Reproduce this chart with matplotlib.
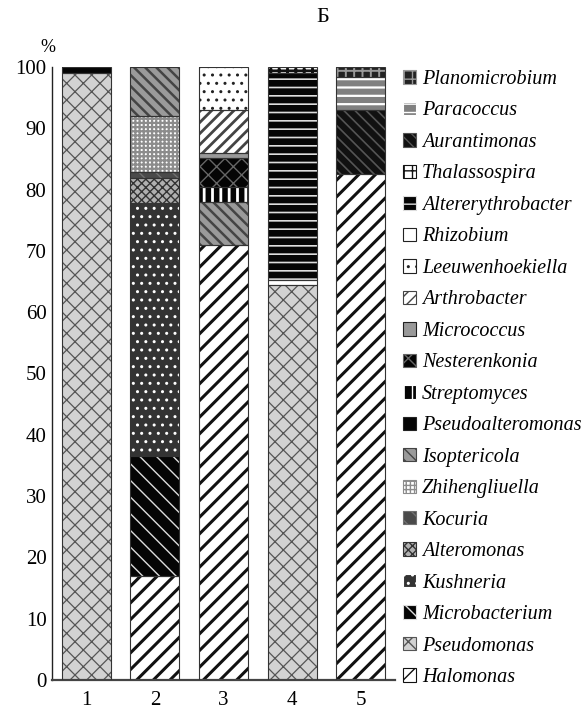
import matplotlib
matplotlib.use("Agg")
import matplotlib.pyplot as plt
from matplotlib.patches import Patch
import numpy as np

samples = ["1", "2", "3", "4", "5"]
genera = ["Halomonas", "Pseudomonas", "Microbacterium", "Kushneria", "Alteromonas",
          "Kocuria", "Zhihengliuella", "Isoptericola", "Pseudoalteromonas", "Streptomyces",
          "Nesterenkonia", "Micrococcus", "Arthrobacter", "Leeuwenhoekiella", "Rhizobium",
          "Altererythrobacter", "Thalassospira", "Aurantimonas", "Paracoccus", "Planomicrobium"]
# percent per sample (1..5)
values = {
    "Halomonas":          [0, 17.0, 71.0, 0, 82.5],
    "Pseudomonas":        [99.0, 0, 0, 64.5, 0],
    "Microbacterium":     [0, 19.5, 0, 0, 0],
    "Kushneria":          [0, 41.3, 0, 0, 0],
    "Alteromonas":        [0, 4.1, 0, 0, 0],
    "Kocuria":            [0, 1.0, 0, 0, 0],
    "Zhihengliuella":     [0, 9.1, 0, 0, 0],
    "Isoptericola":       [0, 8.0, 7.0, 0, 0],
    "Pseudoalteromonas":  [1.0, 0, 0, 0, 0],
    "Streptomyces":       [0, 0, 2.4, 0, 0],
    "Nesterenkonia":      [0, 0, 4.8, 0, 0],
    "Micrococcus":        [0, 0, 0.8, 0, 0],
    "Arthrobacter":       [0, 0, 7.0, 0, 0],
    "Leeuwenhoekiella":   [0, 0, 7.0, 0, 0],
    "Rhizobium":          [0, 0, 0, 0.7, 0],
    "Altererythrobacter": [0, 0, 0, 33.8, 0],
    "Thalassospira":      [0, 0, 0, 1.0, 0],
    "Aurantimonas":       [0, 0, 0, 0, 10.5],
    "Paracoccus":         [0, 0, 0, 0, 5.3],
    "Planomicrobium":     [0, 0, 0, 0, 1.7],
}
yticks = [0, 10, 20, 30, 40, 50, 60, 70, 80, 90, 100]

# style: facecolor, hatch, hatch color, hatch linewidth
styles = {
    "Halomonas":          ("#ffffff", "//", "#111111", 2.2),
    "Pseudomonas":        ("#d2d2d2", "xx", "#555555", 0.9),
    "Microbacterium":     ("#050505", "\\\\", "#dddddd", 1.0),
    "Kushneria":          ("#333333", "..", "#ffffff", 1.0),
    "Alteromonas":        ("#b0b0b0", "xxxx", "#333333", 1.0),
    "Kocuria":            ("#4a4a4a", "\\\\", "#707070", 1.0),
    "Zhihengliuella":     ("#ffffff", "++++", "#8c8c8c", 1.6),
    "Isoptericola":       ("#9a9a9a", "\\\\\\", "#444444", 1.8),
    "Pseudoalteromonas":  ("#050505", None, None, 1.0),
    "Streptomyces":       ("#050505", "||", "#ffffff", 2.0),
    "Nesterenkonia":      ("#050505", "xx", "#666666", 1.0),
    "Micrococcus":        ("#999999", None, None, 1.0),
    "Arthrobacter":       ("#ffffff", "///", "#444444", 2.0),
    "Leeuwenhoekiella":   ("#ffffff", "..", "#222222", 1.0),
    "Rhizobium":          ("#ffffff", None, None, 1.0),
    "Altererythrobacter": ("#050505", "--", "#dddddd", 1.2),
    "Thalassospira":      ("#ffffff", "++", "#111111", 2.0),
    "Aurantimonas":       ("#111111", "\\\\\\", "#555555", 1.2),
    "Paracoccus":         ("#808080", "--", "#ffffff", 1.6),
    "Planomicrobium":     ("#222222", "++", "#999999", 1.4),
}

plt.rcParams['font.family'] = ['Liberation Serif', 'DejaVu Serif']

fig = plt.figure(figsize=(5.87, 7.13), dpi=100)
ax = fig.add_axes([52/587, 1-680/713, (395-52)/587, (680-67)/713])

x = np.arange(1, len(samples) + 1)
width = 0.715
bottom = np.zeros(len(samples))
for g in genera:
    v = np.array(values[g], dtype=float)
    fc, h, hc, lw = styles[g]
    with plt.rc_context({'hatch.linewidth': lw}):
        ax.bar(x, v, width, bottom=bottom, color=fc, hatch=h,
               edgecolor=hc if hc else fc, linewidth=0, zorder=2)
    bottom += v
# outlines of segments
bottom = np.zeros(len(samples))
for g in genera:
    v = np.array(values[g], dtype=float)
    mask = v > 0
    ax.bar(x[mask], v[mask], width, bottom=bottom[mask], fill=False,
           edgecolor="#333333", linewidth=0.8, zorder=3)
    bottom += v

ax.set_xlim(0.5, 5.5)
ax.set_ylim(0, 100)
ax.set_xticks(x)
ax.set_xticklabels(samples, fontsize=15)
ax.set_yticks(yticks)
ax.set_yticklabels([str(t) for t in yticks], fontsize=15)
ax.tick_params(axis='both', length=0, pad=4)
ax.tick_params(axis='x', pad=8)
for s in ["top", "right"]:
    ax.spines[s].set_visible(False)
ax.spines["left"].set_color("#222222")
ax.spines["bottom"].set_color("#444444")
ax.spines["bottom"].set_linewidth(1.6)
ax.spines["left"].set_linewidth(1.0)

fig.text(48/587, 1-47/713, "%", fontsize=13, ha="center", va="center")
fig.text(323/587, 1-18/713, "Б", fontsize=16, ha="center", va="center")

handles = []
for g in reversed(genera):
    fc, h, hc, lw = styles[g]
    handles.append(Patch(facecolor=fc, hatch=h, edgecolor=hc if hc else "#222222", linewidth=0.8))
leg = fig.legend(handles, list(reversed(genera)), loc="upper left",
                 bbox_to_anchor=(403/587, 1-70/713), frameon=False,
                 prop={'family': 'Liberation Serif', 'style': 'italic', 'size': 14.5},
                 handlelength=0.65, handleheight=0.65, handletextpad=0.3,
                 labelspacing=0.62, borderaxespad=0, borderpad=0)

fig.savefig("out.png", dpi=100)
